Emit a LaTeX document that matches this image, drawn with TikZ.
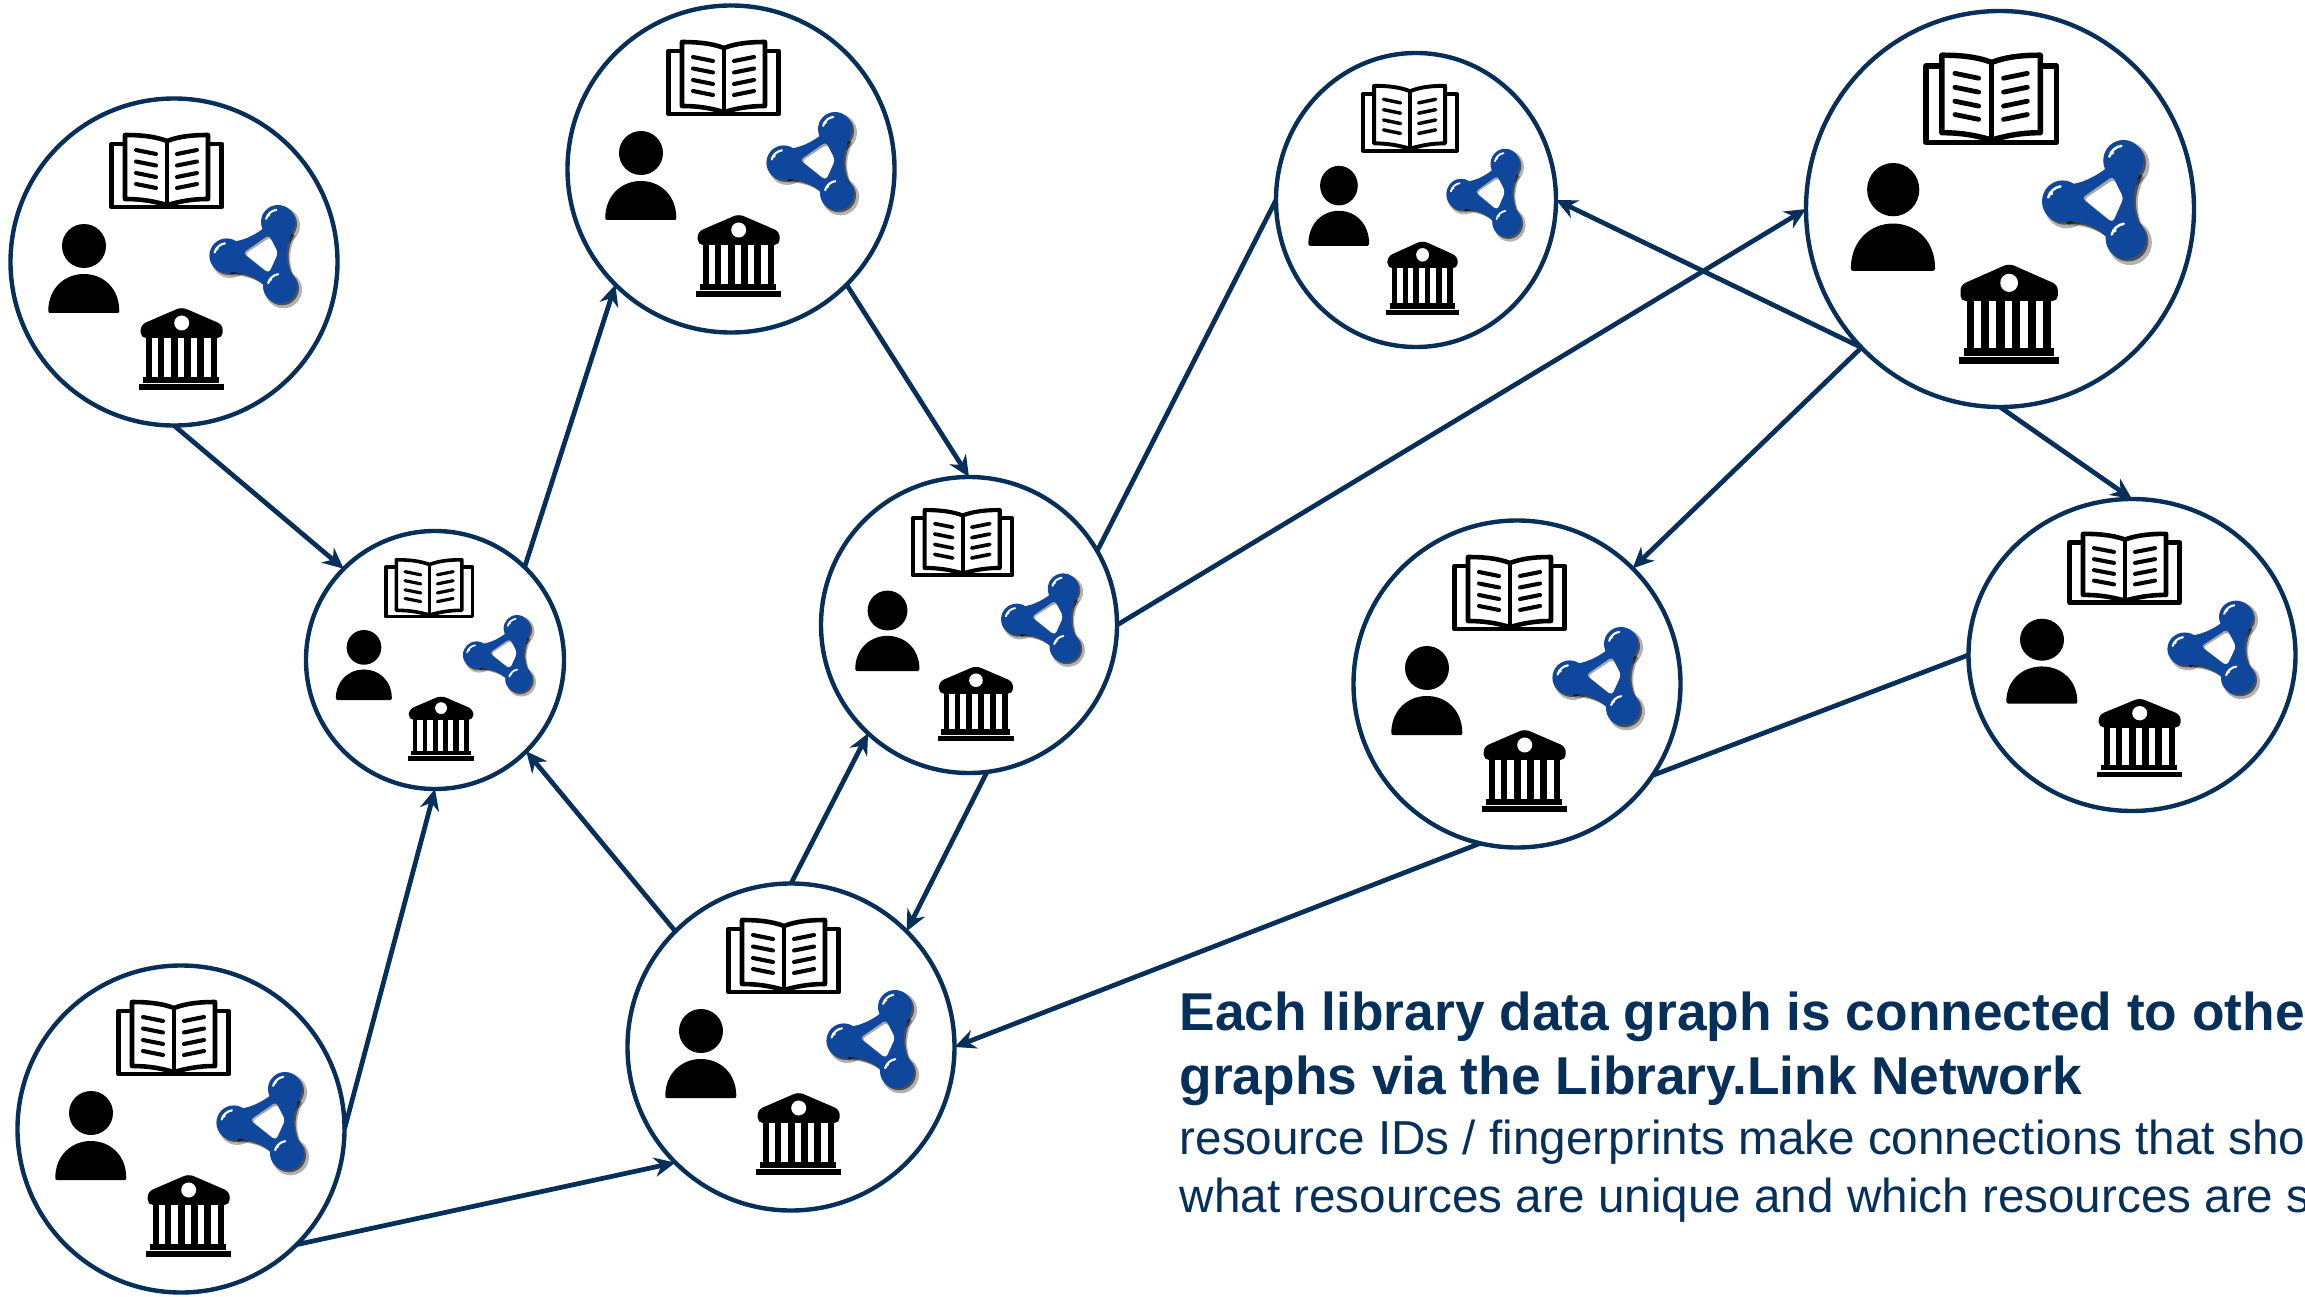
\documentclass[tikz,border=0pt]{standalone}
\usepackage{fontspec}
\setmainfont{Liberation Sans}
\usetikzlibrary{arrows.meta}
\usetikzlibrary{shapes.geometric}

\definecolor{linknavy}{HTML}{06305A}
\definecolor{netblue}{HTML}{0F479C}

% three balls and the bonds between them
\newcommand{\netblob}[3]{
    \fill[#1,shift={(#2,#2)}] (104,-40) circle (17+#3) (52.7,-6.3) circle (17.3+#3) (106,24.3) circle (17+#3);
    \fill[#1,shift={(#2,#2)}] (52,-20) .. controls (62,-20) and (74,-22) .. (90,-34) -- (118,-30)
        .. controls (112,-15) and (110,-5) .. (117,12) -- (96,32) .. controls (90,19) and (75,10) .. (54,10) -- cycle;
}

\tikzset{
    libnode/.style={ellipse,draw=linknavy,line width=1.25pt,fill=white,inner sep=0pt,outer sep=0pt},
    link/.style={linknavy,line width=1.35pt},
    linkarrow/.style={link,-{Stealth[length=6pt,width=5.5pt]}},
    headline/.style={anchor=base west,inner sep=0pt,text=linknavy,font=\fontsize{15.15}{18}\selectfont\bfseries},
    subline/.style={anchor=base west,inner sep=0pt,text=linknavy,font=\fontsize{13.55}{16}\selectfont},
    pics/libicons/.style={code={
        % book
        \draw[line width=#1*1.3pt,line join=round] (-62.3,-118) rectangle (47.7,-55);
        \draw[line width=#1*1.3pt,line join=round,fill=white] (-7,-121) .. controls (-20,-126) and (-35,-127) .. (-49,-127)
            -- (-49,-63) .. controls (-30,-63) and (-18,-60) .. (-7,-57)
            .. controls (4,-60) and (16,-63) .. (34,-63) -- (34,-127)
            .. controls (20,-127) and (6,-126) .. (-7,-121) -- cycle;
        \draw[line width=#1*1.3pt] (-7,-121) -- (-7,-57);
        \foreach \ly in {-112,-100.5,-89,-78} {
            \draw[line width=#1*1.15pt,line cap=round] (-38,\ly) -- (-18,\ly+4);
            \draw[line width=#1*1.15pt,line cap=round] (3,\ly+4) -- (23,\ly);
        }
        % person
        \fill (-90,-16) circle (22);
        \fill (-125.7,49) .. controls (-125.7,26) and (-109,12) .. (-90.2,12)
            .. controls (-71,12) and (-54.7,26) .. (-54.7,49)
            .. controls (-54.7,50.5) and (-55.5,51) .. (-56.5,51) -- (-124,51)
            .. controls (-125,51) and (-125.7,50.5) .. (-125.7,49) -- cycle;
        % library building
        \fill[rounded corners=1.5] (7.7,45) -- (48.7,62.7) -- (48.7,76) -- (-33.3,76) -- (-33.3,62.7) -- cycle;
        \fill[white] (7.7,61) circle (7.5);
        \fill (-28,75) rectangle (43.3,115);
        \foreach \wx in {-22.3,-9.7,3.8,16.7,30}
            \fill[white] (\wx,76) rectangle ++(6.6,39);
        \fill (-30.7,115) rectangle (45.3,121);
        \fill (-34.7,122.3) rectangle (49.7,127.7);
        % network
        \begin{scope}[opacity=0.3]
            \netblob{black}{3.5}{1.5}
        \end{scope}
        \begin{scope}[opacity=0.55]
            \netblob{black}{2}{0}
        \end{scope}
        \netblob{netblue}{0}{0}
        \foreach \bx/\by/\br in {104/-40/17,52.7/-6.3/17.3,106/24.3/17} {
            \draw[white,line width=#1*0.6pt,line cap=round] (\bx,\by) ++(195:\br*0.72) arc[start angle=195,end angle=262,radius=\br*0.72];
            \fill[white] (\bx,\by) ++(215:\br*0.68) circle (\br*0.1);
        }
        \fill[gray!70,rounded corners=1] (69,-9) -- (95,-27) -- (104,-9) -- (94,11) -- cycle;
        \fill[white,rounded corners=1] (71,-8) -- (96,-24.5) -- (104,-9) -- (95,11) -- cycle;
    }},
}

\begin{document}
\begin{tikzpicture}[x=0.01cm,y=0.01cm,yscale=-1]
    \useasboundingbox (0,0) rectangle (2305,1297);

    % library graphs
    \foreach \nm/\px/\py/\rx/\ry in {
        a/174/262/163.5/163.5, b/731/169/163.5/163.5, c/435/660/129/129,
        d/969/625/148/148, e/1416/200/140/147, f/2000/209/194/198,
        g/1517/684/163.5/163.5, h/2132/655/163.5/156, i/791/1047/163.5/163.5,
        j/181/1129/163.5/163.5} {
        \node[libnode,minimum width=2*\rx*0.01cm,minimum height=2*\ry*0.01cm] (\nm) at (\px,\py) {};
        \pgfmathsetmacro{\sx}{\rx/163.5}
        \pgfmathsetmacro{\sy}{\ry/163.5}
        \pic[xscale=\sx,yscale=-\sy] at (\px,\py) {libicons=\sx};
    }

    % links
    \draw[linkarrow] (a.270) -- (c.135);
    \draw[linkarrow] (c.46) -- (b.225);
    \draw[linkarrow] (b.-45) -- (d.90);
    \draw[link] (d.30) -- (e.180);
    \draw[linkarrow] (d.0) -- (f.180);
    \draw[linkarrow] (f.225) -- (e.0);
    \draw[linkarrow] (f.225) -- (g.45);
    \draw[linkarrow] (f.270) -- (h.90);
    \draw[link] (h.180) -- (g.-34);
    \draw[linkarrow] (g.257) -- (i.0);
    \draw[linkarrow] (i.90) -- (d.227);
    \draw[linkarrow] (d.277) -- (i.45);
    \draw[linkarrow] (i.135) -- (c.-45);
    \draw[linkarrow] (j.0) -- (c.270);
    \draw[linkarrow] (j.-45) -- (i.225);

    % caption
    \node[headline] (headone) at (1179,1030) {Each library data graph is connected to othe};
    \node[headline] (headtwo) at (1179,1094) {graphs via the Library.Link Network};
    \node[subline] (subone) at (1179,1154) {resource IDs / fingerprints make connections that sho};
    \node[subline] (subtwo) at (1179,1212) {what resources are unique and which resources are s};
\end{tikzpicture}
\end{document}
